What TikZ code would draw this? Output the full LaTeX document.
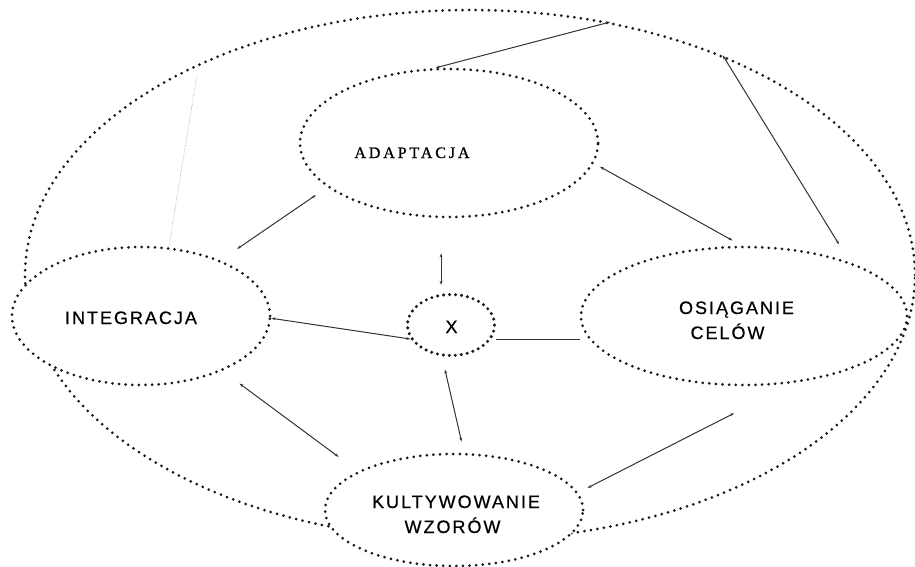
\documentclass[tikz,border=0pt]{standalone}
\usepackage{fontspec}
\setmainfont{Liberation Sans}
\newfontfamily\capsans[LetterSpace=11,FakeBold=0.6]{Liberation Sans}
\newfontfamily\capserif[LetterSpace=18,FakeBold=0.8]{Liberation Serif}
\usetikzlibrary{shapes.geometric,arrows.meta}

\begin{document}
\begin{tikzpicture}[x=1pt,y=-1pt,
  dotline/.style={line width=3pt, line cap=round, dash pattern=on 0pt off 6.6pt},
  field/.style={ellipse, draw=black!90, dotline, fill=white, inner sep=0pt},
  lbl/.style={font=\capsans\fontsize{18}{25}\selectfont, inner sep=0pt, anchor=base, align=center},
  link/.style={line width=1pt, draw=black!80, {Stealth[length=4pt,width=2.8pt]}-{Stealth[length=4pt,width=2.8pt]}},
  bar/.style={line width=1pt, draw=black!80},
  faint/.style={line width=0.7pt, draw=black!55, line cap=round, dash pattern=on 0pt off 2.2pt}
]
\useasboundingbox (0,0) rectangle (915,567);
\fill[white] (0,0) rectangle (915,567);

% the enclosing system boundary
\node[ellipse, draw=black!90, dotline, inner sep=0pt, minimum width=890pt,
      minimum height=530pt] (outer) at (470,275) {};

% functional subsystems
\node[field, minimum width=298pt, minimum height=148pt] (adapt) at (449,143) {};
\node[field, minimum width=258pt, minimum height=138pt] (integ) at (141,316) {};
\node[field, minimum width=326pt, minimum height=138pt] (osia) at (744,316) {};
\node[field, minimum width=258pt, minimum height=112pt] (kult) at (454,510) {};
\node[field, minimum width=87pt, minimum height=61pt, line width=3.4pt,
      dash pattern=on 0pt off 6pt] (x) at (451,325) {};

% labels
\node[lbl, font=\capserif\fontsize{16}{18}\selectfont] (adaptT) at (412,158) {ADAPTACJA};
\node[lbl] (integT) at (131,324) {INTEGRACJA};
\node[lbl] (xT) at (451.5,333) {X};
\node[lbl] (osiaT) at (736.5,339) {OSIĄGANIE\\CELÓW\hspace*{18pt}};
\node[lbl] (kultT) at (456,533) {KULTYWOWANIE\\WZORÓW\hspace*{7pt}};

% exchanges
\draw[link] (outer.61.7) -- (adapt.100.8);
\draw[link, shorten <=13.8pt, shorten >=20pt] (adapt.200.3) -- (integ.35);
\draw[link, shorten <=10.3pt, shorten >=6.9pt] (osia.92.5) -- (adapt.-8.2);
\draw[link, shorten >=20.8pt] (outer.41.7) -- (osia.27.4);
\draw[faint, shorten <=12.9pt] (outer.142.2) -- (integ.68.6);
\draw[link, shorten <=35pt, shorten >=8pt] (adapt.-96.2) -- (adapt.-96.2 |- x.north);
\draw[link] (integ.-1.3) -- (x.199);
\draw[bar, shorten <=5pt] (x.-20) -- (x.-20 -| osia.west);
\draw[link, shorten <=13.4pt, shorten >=11.4pt] (x.-106.4) -- (kult.80.5);
\draw[link, shorten <=21pt, shorten >=24pt] (integ.-34.3) -- (kult.158.3);
\draw[link, shorten <=10.3pt, shorten >=66pt] (kult.8.6) -- (osia.-54);
\end{tikzpicture}
\end{document}
